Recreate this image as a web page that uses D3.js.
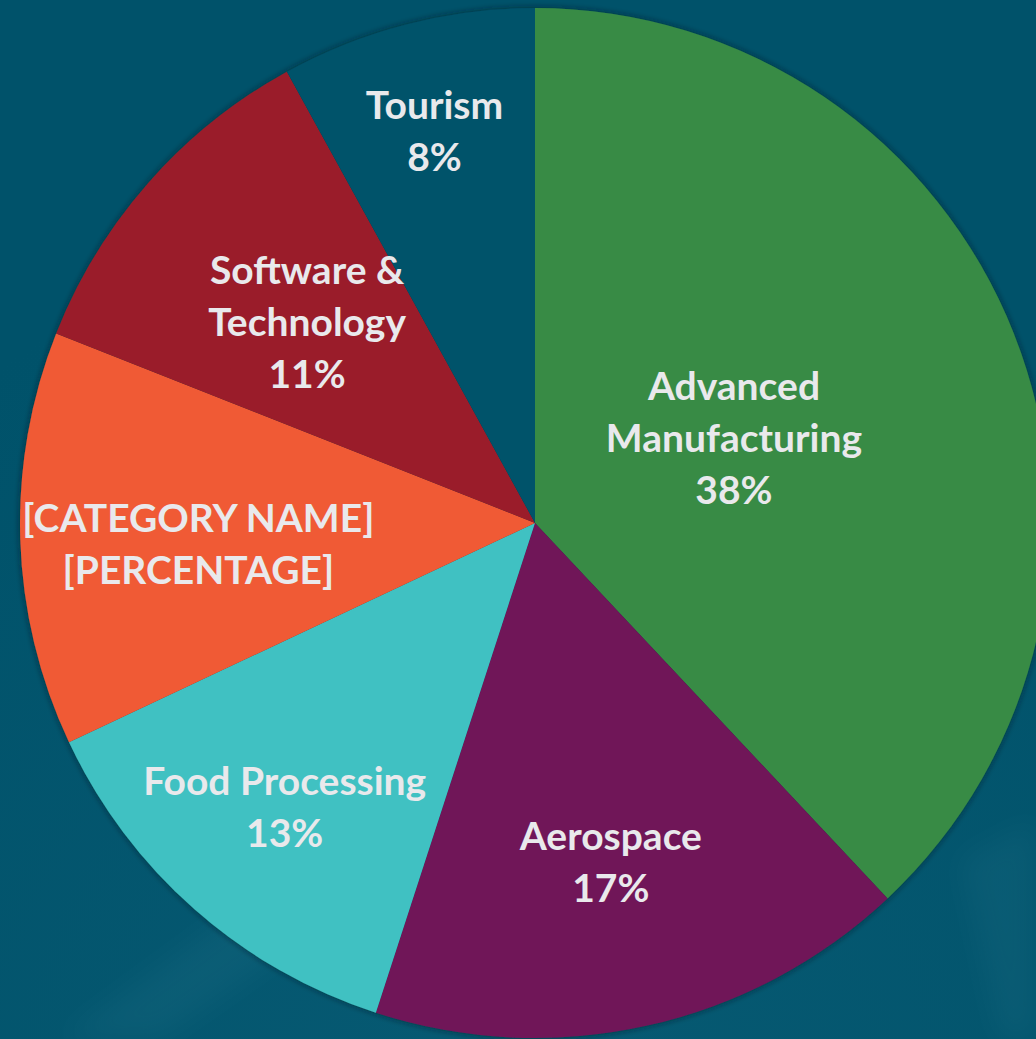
<!DOCTYPE html>
<html>
<head>
<meta charset="utf-8">
<script src="https://cdn.jsdelivr.net/npm/d3@7"></script>
<style>
  html, body { margin: 0; padding: 0; background: #00526a; overflow: hidden; }
  svg { display: block; }
</style>
</head>
<body>
<script>
var w = 1036;
var h = 1039;

// slice data, clockwise from 12 o'clock
var categories = ["Advanced Manufacturing", "Aerospace", "Food Processing", "[CATEGORY NAME]", "Software & Technology", "Tourism"];
var values = [38, 17, 13, 13, 11, 8];
var labelLines = [
    ["Advanced", "Manufacturing", "38%"],
    ["Aerospace", "17%"],
    ["Food Processing", "13%"],
    ["[CATEGORY NAME]", "[PERCENTAGE]"],
    ["Software &", "Technology", "11%"],
    ["Tourism", "8%"]
];
var colors = ["#388b45", "#6f1559", "#41c1c2", "#f05a35", "#9a1f2a", "#00526a"];
// how far out each label sits (fraction of radius) and a small angle nudge (deg), like the best-fit placement
var labelRadius = [0.42, 0.675, 0.735, 0.655, 0.59, 0.785];
var labelNudge = [-1.5, 0, 0, -1.8, 0, 0];

var r = 515;
var cx = 535, cy = 523;

var svg = d3.select("body").append("svg")
    .attr("width", w)
    .attr("height", h);

var defs = svg.append("defs");

var bg = defs.append("radialGradient")
    .attr("id", "bg")
    .attr("cx", "0.5").attr("cy", "1.1").attr("r", "0.9");
bg.append("stop").attr("offset", "0").attr("stop-color", "#075a73");
bg.append("stop").attr("offset", "1").attr("stop-color", "#00526a");

var shadow = defs.append("filter")
    .attr("id", "shadow")
    .attr("x", "-10%").attr("y", "-10%").attr("width", "120%").attr("height", "120%");
shadow.append("feDropShadow")
    .attr("dx", 0).attr("dy", 0)
    .attr("stdDeviation", 3)
    .attr("flood-color", "#001a24")
    .attr("flood-opacity", 0.7);

var blur = defs.append("filter").attr("id", "blur");
blur.append("feGaussianBlur").attr("stdDeviation", 14);

svg.append("rect")
    .attr("width", w).attr("height", h)
    .attr("fill", "url(#bg)");

// faint light rays in the lower part of the backdrop
var rays = svg.append("g").attr("filter", "url(#blur)").attr("opacity", 0.07);
rays.append("path").attr("d", "M960,860 L1036,820 L1036,1039 L1000,1039 Z").attr("fill", "#5fa9bd");
rays.append("path").attr("d", "M60,1039 L250,900 L330,920 L160,1039 Z").attr("fill", "#5fa9bd");

var g = svg.append("g")
    .attr("transform", "translate(" + cx + "," + cy + ")");

var pie = d3.pie()
    .sort(null)
    .value(function (d) { return d; });

var arcs = pie(values);

var arc = d3.arc()
    .innerRadius(0)
    .outerRadius(r);

g.append("g")
    .attr("filter", "url(#shadow)")
    .selectAll("path")
    .data(arcs)
    .enter().append("path")
    .attr("d", arc)
    .attr("fill", function (d, i) { return colors[i]; });

var lineH = 52;

var labels = g.selectAll(".label")
    .data(arcs)
    .enter().append("text")
    .attr("class", "label")
    .attr("transform", function (d, i) {
        var lr = labelRadius[i] * r;
        var nudge = labelNudge[i] * Math.PI / 180;
        var c = d3.arc().innerRadius(lr).outerRadius(lr).centroid({
            startAngle: d.startAngle + nudge,
            endAngle: d.endAngle + nudge
        });
        return "translate(" + c[0] + "," + c[1] + ")";
    })
    .attr("text-anchor", "middle")
    .attr("font-family", "Lato, 'Open Sans', sans-serif")
    .attr("font-weight", "bold")
    .attr("font-size", 39)
    .attr("fill", "#e9e9ec");

labels.each(function (d, i) {
    var lines = labelLines[i];
    var t = d3.select(this);
    var y0 = -(lines.length - 1) * lineH / 2;
    lines.forEach(function (s, k) {
        t.append("tspan")
            .attr("x", 0)
            .attr("y", y0 + k * lineH)
            .attr("dy", "0.36em")
            .text(s);
    });
});
</script>
</body>
</html>
